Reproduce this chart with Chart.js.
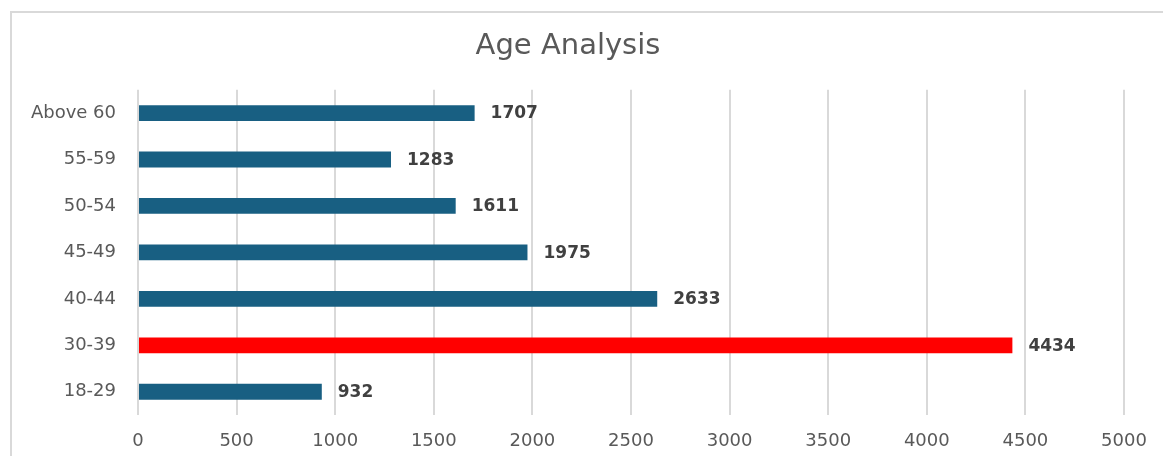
<!DOCTYPE html>
<html>
<head>
<meta charset="utf-8">
<title>Age Analysis</title>
<script src="https://cdn.jsdelivr.net/npm/chart.js@4"></script>
<style>
    html, body { margin: 0; padding: 0; background: #fff; overflow: hidden; }
    .wrap { position: absolute; left: 0; top: 0; width: 1163px; height: 456px; }
</style>
</head>
<body>
<div class="wrap"><canvas id="ageChart" width="1163" height="456"></canvas></div>
<script>
// Age Analysis — horizontal bars
const ageGroups = ['Above 60', '55-59', '50-54', '45-49', '40-44', '30-39', '18-29'];
const counts = [1707, 1283, 1611, 1975, 2633, 4434, 932];
const highlightGroup = '30-39';
const xTicks = [0, 500, 1000, 1500, 2000, 2500, 3000, 3500, 4000, 4500, 5000];

(function () {
    const blue = '#185f82';
    const red = '#ff0000';
    const grey = '#595959';
    const font = 'DejaVu Sans';

    // light frame along the left and top edge (chart box is cropped on right/bottom)
    const frame = {
        id: 'frame',
        beforeDraw(chart) {
            const ctx = chart.ctx;
            ctx.save();
            ctx.strokeStyle = '#d9d9d9';
            ctx.lineWidth = 2;
            ctx.beginPath();
            ctx.moveTo(11, chart.height);
            ctx.lineTo(11, 12);
            ctx.lineTo(chart.width, 12);
            ctx.stroke();
            ctx.restore();
        }
    };

    // bold value labels right of each bar
    const valueLabels = {
        id: 'valueLabels',
        afterDatasetsDraw(chart) {
            const ctx = chart.ctx;
            const meta = chart.getDatasetMeta(0);
            ctx.save();
            ctx.font = 'bold 17px "' + font + '"';
            ctx.fillStyle = '#404040';
            ctx.textAlign = 'left';
            ctx.textBaseline = 'middle';
            meta.data.forEach((bar, i) => {
                ctx.fillText(String(counts[i]), bar.x + 16, bar.y + 1);
            });
            ctx.restore();
        }
    };

    new Chart(document.getElementById('ageChart'), {
        type: 'bar',
        data: {
            labels: ageGroups,
            datasets: [{
                data: counts,
                backgroundColor: ageGroups.map(g => g === highlightGroup ? red : blue),
                borderWidth: 0,
                categoryPercentage: 1,
                barPercentage: 0.34
            }]
        },
        options: {
            indexAxis: 'y',
            responsive: false,
            animation: false,
            layout: { padding: { left: 12, right: 39, top: 0, bottom: 5 } },
            plugins: {
                legend: { display: false },
                tooltip: { enabled: false },
                title: {
                    display: true,
                    text: 'Age Analysis',
                    color: grey,
                    font: { family: font, size: 29, weight: 'normal' },
                    padding: { top: 29, bottom: 26 }
                }
            },
            scales: {
                x: {
                    min: xTicks[0],
                    max: xTicks[xTicks.length - 1],
                    afterBuildTicks: s => { s.ticks = xTicks.map(v => ({ value: v })); },
                    afterFit: s => { s.height = 36; },
                    grid: { color: '#d9d9d9', lineWidth: 2, drawTicks: false },
                    border: { display: false },
                    ticks: {
                        color: grey, padding: 16,
                        font: { family: font, size: 18 },
                        callback: v => String(v)
                    }
                },
                y: {
                    afterFit: s => { s.width = 126; },
                    grid: { display: false, drawTicks: false },
                    border: { display: false },
                    ticks: { color: grey, padding: 22, font: { family: font, size: 18 } }
                }
            }
        },
        plugins: [frame, valueLabels]
    });
})();
</script>
</body>
</html>
